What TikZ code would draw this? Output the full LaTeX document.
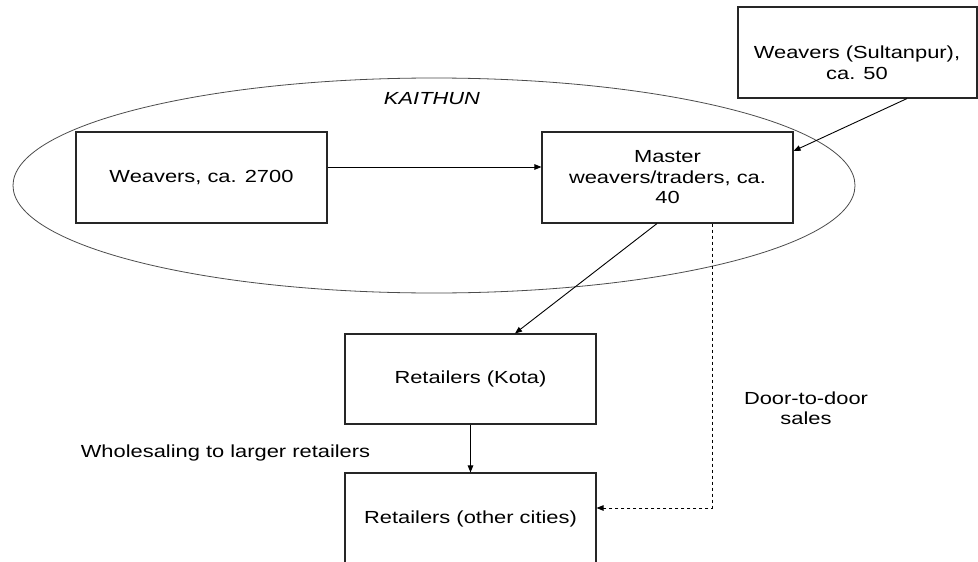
\documentclass[tikz,border=0pt]{standalone}
\usepackage{fontspec}
\setmainfont[FakeStretch=1.25]{Liberation Sans}
\usetikzlibrary{arrows.meta,shapes.geometric}
\begin{document}
\begin{tikzpicture}[x=1pt,y=-1pt,
  every node/.style={font=\fontsize{17.5}{20.5}\selectfont, text=black},
  box/.style={draw=black!85, line width=1.1pt, rectangle, inner sep=0pt, align=center},
  conn/.style={draw=black, line width=0.9pt, -{Triangle[length=7pt,width=5.5pt]}},
  dconn/.style={conn, dash pattern=on 3.5pt off 2.5pt}]
\useasboundingbox (0,0) rectangle (978,562);
\clip (0,0) rectangle (978,562);
\fill[white] (0,0) rectangle (978,562);
\node[draw=black!70, line width=0.8pt, ellipse, minimum width=842pt, minimum height=215pt, inner sep=0pt] (kaithun) at (434,185.5) {};
\node[font=\fontsize{17.5}{20.5}\selectfont\itshape] (klabel) at (432,99) {KAITHUN};
\node[box, minimum width=251pt, minimum height=91pt] (weav) at (201.5,177.5) {Weavers, ca. 2700};
\node[box, minimum width=251pt, minimum height=91pt] (master) at (667.5,177.5) {Master\\weavers/traders, ca.\\40};
\node[box, minimum width=239pt, minimum height=91pt] (sult) at (857.5,52.5) {};
\node[align=center] (sulttext) at (857,62.5) {Weavers (Sultanpur),\\ca. 50};
\node[box, minimum width=251pt, minimum height=90pt] (kota) at (470.5,379) {Retailers (Kota)};
\node[box, minimum width=251pt, minimum height=91pt] (other) at (470.5,518.5) {Retailers (other cities)};
\node[align=center] (door) at (806,408) {Door-to-door\\sales};
\node (whole) at (225.5,453) {Wholesaling to larger retailers};
\draw[conn] ([yshift=10.5pt]weav.east) -- ([yshift=10.5pt]master.west);
\draw[conn] ([xshift=49.5pt]sult.south) -- ([yshift=26.5pt]master.east);
\draw[conn] ([xshift=-10.5pt]master.south) -- ([xshift=44.5pt]kota.north);
\draw[conn] (kota.south) -- (other.north);
\draw[dconn] ([xshift=44.5pt]master.south) |- ([yshift=10.5pt]other.east);
\end{tikzpicture}
\end{document}
